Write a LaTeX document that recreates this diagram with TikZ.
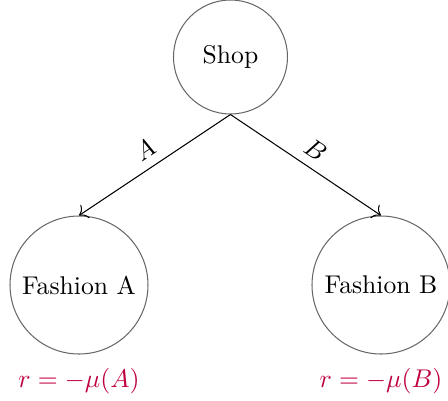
\documentclass[tikz,border=0pt]{standalone}
\usetikzlibrary{arrows.meta}
\begin{document}
\begin{tikzpicture}[x=0.39pt,y=-0.39pt,
  state/.style={circle,draw=black!60,inner sep=0pt},
  small/.style={state,minimum size=114*0.39pt},
  big/.style={state,minimum size=138*0.39pt},
  edge/.style={->,>={To[length=3pt]}},
  reward/.style={text=purple}]
\useasboundingbox (0,0) rectangle (448,400);
\node[small] (shop) at (230.5,57) {Shop};
\node[big] (fa) at (79,285) {Fashion A};
\node[big] (fb) at (381,285) {Fashion B};
\draw[edge] (shop.south) -- node[sloped,above] {$A$} (fa.north);
\draw[edge] (shop.south) -- node[sloped,above] {$B$} (fb.north);
\node[reward] (ra) at (79,381) {$r=-\mu(A)$};
\node[reward] (rb) at (381,381) {$r=-\mu(B)$};
\end{tikzpicture}
\end{document}
